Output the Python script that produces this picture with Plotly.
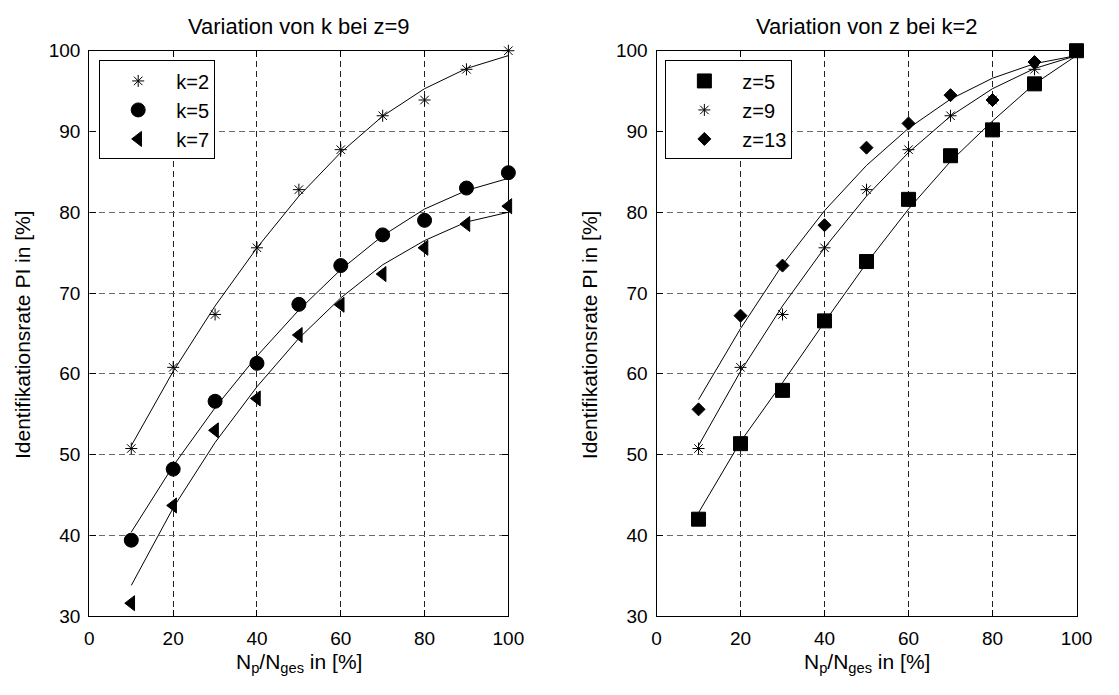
import plotly.graph_objects as go

W, H = 1119, 695

x_vals = [10, 20, 30, 40, 50, 60, 70, 80, 90, 100]

# Left panel: Variation von k bei z=9
k2_pts = [50.75, 60.8, 67.35, 75.6, 82.8, 87.75, 91.95, 93.9, 97.7, 100.0]
k5_pts = [39.4, 48.2, 56.6, 61.3, 68.6, 73.4, 77.2, 79.0, 83.0, 84.9]
k7_pts = [31.6, 43.7, 53.0, 56.95, 64.8, 68.55, 72.35, 75.6, 78.55, 80.75]
k2_fit = [51.1, 60.3, 68.4, 75.6, 82.0, 87.4, 91.9, 95.3, 97.8, 99.4]
k5_fit = [40.4, 48.6, 55.8, 62.2, 67.9, 72.9, 77.1, 80.4, 82.7, 84.2]
k7_fit = [33.8, 43.4, 51.5, 58.4, 64.4, 69.4, 73.5, 76.5, 78.8, 80.0]

# Right panel: Variation von z bei k=2
z5_pts = [42.0, 51.35, 57.95, 66.55, 73.9, 81.6, 87.0, 90.2, 95.9, 100.0]
z9_pts = k2_pts
z13_pts = [55.6, 67.2, 73.4, 78.4, 88.0, 91.0, 94.5, 93.9, 98.6, 100.0]
z5_fit = [42.8, 51.6, 58.9, 66.4, 73.7, 80.4, 86.3, 91.3, 95.9, 99.4]
z9_fit = k2_fit
z13_fit = [56.8, 65.6, 73.5, 80.2, 85.8, 90.4, 94.0, 96.6, 98.4, 99.4]

x_ticks = [0, 20, 40, 60, 80, 100]
y_ticks = [30, 40, 50, 60, 70, 80, 90, 100]

left_series = [("k=2", k2_pts, k2_fit, "asterisk-open", 10),
               ("k=5", k5_pts, k5_fit, "circle", 14),
               ("k=7", k7_pts, k7_fit, "triangle-left", 13)]
right_series = [("z=5", z5_pts, z5_fit, "square", 14),
                ("z=9", z9_pts, z9_fit, "asterisk-open", 10),
                ("z=13", z13_pts, z13_fit, "diamond", 10)]

FONT = "Liberation Sans, Arial, Helvetica, sans-serif"

fig = go.Figure()

for (xa, ya, leg, series) in [("x", "y", "legend", left_series),
                              ("x2", "y2", "legend2", right_series)]:
    for name, pts, fit, sym, size in series:
        fig.add_trace(go.Scatter(x=x_vals, y=fit, mode="lines",
                                 line=dict(color="black", width=1),
                                 showlegend=False, xaxis=xa, yaxis=ya,
                                 hoverinfo="skip"))
    for name, pts, fit, sym, size in series:
        fig.add_trace(go.Scatter(x=x_vals, y=pts, mode="markers", name=name,
                                 cliponaxis=False,
                                 marker=dict(symbol=sym, size=size, color="black",
                                             line=dict(color="black", width=1)),
                                 xaxis=xa, yaxis=ya, legend=leg))

def px_x(p):
    return p / W

def px_y(p):
    return 1 - p / H

ax_common = dict(showline=True, linecolor="black", linewidth=1.3, mirror="ticks",
                 ticks="inside", ticklen=6, tickcolor="black", tickwidth=1,
                 showgrid=True, griddash="6px,4px", zeroline=False,
                 tickfont=dict(family=FONT, size=19, color="black"))

ydom = [px_y(625), px_y(42)]
leg_common = dict(xanchor="left", yanchor="top", bgcolor="white",
                  bordercolor="black", borderwidth=1,
                  font=dict(family=FONT, size=20, color="black"),
                  itemwidth=66, tracegroupgap=0)
fig.update_layout(
    width=W, height=H, margin=dict(l=0, r=0, t=0, b=0),
    paper_bgcolor="white", plot_bgcolor="white",
    font=dict(family=FONT, color="black"),
    xaxis=dict(domain=[px_x(86), px_x(513)], range=[0, 100], tickvals=x_ticks,
               gridcolor="#222222", anchor="y", ticklabelstandoff=5, **ax_common),
    yaxis=dict(domain=ydom, range=[30, 100], tickvals=y_ticks,
               gridcolor="#6a6a6a", anchor="x", ticklabelstandoff=4, **ax_common),
    xaxis2=dict(domain=[px_x(664), px_x(1092)], range=[0, 100], tickvals=x_ticks,
                gridcolor="#222222", anchor="y2", ticklabelstandoff=5, **ax_common),
    yaxis2=dict(domain=ydom, range=[30, 100], tickvals=y_ticks,
                gridcolor="#6a6a6a", anchor="x2", ticklabelstandoff=4, **ax_common),
    legend=dict(x=px_x(96), y=px_y(52), **leg_common),
    legend2=dict(x=px_x(673), y=px_y(52), **leg_common),
    showlegend=True,
)

ann = []
titles = [("Variation von k bei z=9", 299.5), ("Variation von z bei k=2", 878)]
for t, cx in titles:
    ann.append(dict(text=t, x=px_x(cx), y=px_y(17), xref="paper", yref="paper",
                    xanchor="center", yanchor="middle", showarrow=False,
                    font=dict(family=FONT, size=22, color="black")))
for cx in [299.5, 878]:
    ann.append(dict(text="N<sub>p</sub>/N<sub>ges</sub> in [%]", x=px_x(cx), y=px_y(673),
                    xref="paper", yref="paper", xanchor="center", yanchor="middle",
                    showarrow=False, font=dict(family=FONT, size=21, color="black")))
for cx in [18, 596]:
    ann.append(dict(text="Identifikationsrate PI in [%]", x=px_x(cx), y=px_y(334.5),
                    xref="paper", yref="paper", xanchor="center", yanchor="middle",
                    textangle=-90, showarrow=False,
                    font=dict(family=FONT, size=21, color="black")))
fig.update_layout(annotations=ann)

fig.write_html("out.html",
               post_script="document.body.style.margin='0';document.body.style.padding='0';")
